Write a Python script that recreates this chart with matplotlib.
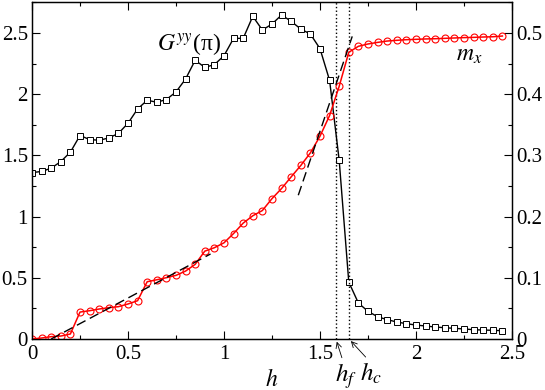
import matplotlib
matplotlib.use("Agg")
import matplotlib.pyplot as plt
from matplotlib.ticker import MultipleLocator, FormatStrFormatter

plt.rcParams['font.family'] = ['Liberation Serif', 'DejaVu Serif']
plt.rcParams['mathtext.fontset'] = 'stix'

# field values h
h = [round(0.05 * i, 2) for i in range(50)]

# G^yy(pi), left axis
G = [1.36, 1.369, 1.396, 1.45, 1.527, 1.663, 1.63, 1.624, 1.643, 1.68,
     1.763, 1.88, 1.951, 1.935, 1.957, 2.019, 2.125, 2.278, 2.22, 2.242,
     2.315, 2.457, 2.457, 2.637, 2.525, 2.574, 2.648, 2.596, 2.533, 2.492,
     2.373, 2.114, 1.461, 0.465, 0.294, 0.226, 0.182, 0.158, 0.139, 0.125,
     0.114, 0.106, 0.098, 0.092, 0.087, 0.082, 0.076, 0.073, 0.071, 0.068]

# m_x, right axis
mx = [0.0, 0.0016, 0.0038, 0.0048, 0.0082, 0.044, 0.0462, 0.049, 0.0512, 0.0528,
      0.0572, 0.0626, 0.0936, 0.0968, 0.1002, 0.104, 0.111, 0.122, 0.1436, 0.1492,
      0.1572, 0.1724, 0.1894, 0.2014, 0.21, 0.2294, 0.246, 0.265, 0.2836, 0.3042,
      0.3314, 0.3652, 0.413, 0.4686, 0.4784, 0.4822, 0.4848, 0.487, 0.4882, 0.4892,
      0.4898, 0.4904, 0.4908, 0.4914, 0.492, 0.4926, 0.493, 0.4936, 0.494, 0.4952]

# dashed fits to m_x (end points)
fit1_h = [0.1, 0.93]
fit1_m = [0.0, 0.139]
fit2_h = [1.387, 1.668]
fit2_m = [0.235, 0.4946]

h_f = 1.583
h_c = 1.651

fig = plt.figure(figsize=(5.45, 3.9), dpi=100)
ax = fig.add_axes([0.0587, 0.1308, 0.8807, 0.8628])
ax2 = ax.twinx()

ax.plot(h, G, color='black', lw=1.0, marker='s', ms=4.6, mfc='white',
        mec='black', mew=0.7)
ax.axvline(h_f, color='black', ls=':', lw=1.0)
ax.axvline(h_c, color='black', ls=':', lw=1.0)

ax2.plot(h, mx, color='red', lw=1.1, marker='o', ms=5, mfc='none',
         mec='red', mew=0.8)
ax2.plot(fit1_h, fit1_m, color='black', ls=(0, (7, 3.5)), lw=1.0)
ax2.plot(fit2_h, fit2_m, color='black', ls=(0, (7, 3.5)), lw=1.0)

ax.set_xlim(0, 2.5)
ax.set_ylim(0, 2.75)
ax2.set_ylim(0, 0.55)

ax.xaxis.set_major_locator(MultipleLocator(0.5))
ax.xaxis.set_minor_locator(MultipleLocator(0.25))
ax.yaxis.set_major_locator(MultipleLocator(0.5))
ax.yaxis.set_minor_locator(MultipleLocator(0.25))
ax2.yaxis.set_major_locator(MultipleLocator(0.1))
ax2.yaxis.set_minor_locator(MultipleLocator(0.05))
for a in (ax.xaxis, ax.yaxis, ax2.yaxis):
    a.set_major_formatter(FormatStrFormatter('%g'))

ax.tick_params(which='both', direction='in', top=True, right=False, labelsize=15, width=0.8)
ax.tick_params(which='major', length=6)
ax.tick_params(which='minor', length=3)
ax.tick_params(axis='y', pad=3)
ax.tick_params(axis='x', pad=4)
ax2.tick_params(which='both', direction='in', labelsize=15, width=0.8, pad=3)
ax2.tick_params(which='major', length=6)
ax2.tick_params(which='minor', length=3)
for a in (ax, ax2):
    for s in a.spines.values():
        s.set_linewidth(0.9)

ax.set_xlabel('$h$', fontsize=17, labelpad=4)

ax.text(0.65, 2.36, r'$G^{yy}$(π)', fontsize=17)
ax2.text(2.21, 0.455, r'$m_x$', fontsize=17)

ax.annotate('', xy=(h_f, 0), xytext=(4.3, -13.5), textcoords='offset points',
            arrowprops=dict(arrowstyle='->', lw=0.6, shrinkA=0, shrinkB=2),
            annotation_clip=False)
ax.annotate('', xy=(h_c, 0), xytext=(12, -13), textcoords='offset points',
            arrowprops=dict(arrowstyle='->', lw=0.6, shrinkA=0, shrinkB=2),
            annotation_clip=False)
ax.text(1.635, -0.18, '$h_f$', fontsize=18, ha='center', va='top')
ax.text(1.766, -0.18, '$h_c$', fontsize=18, ha='center', va='top')

fig.savefig('out.png', dpi=100)
